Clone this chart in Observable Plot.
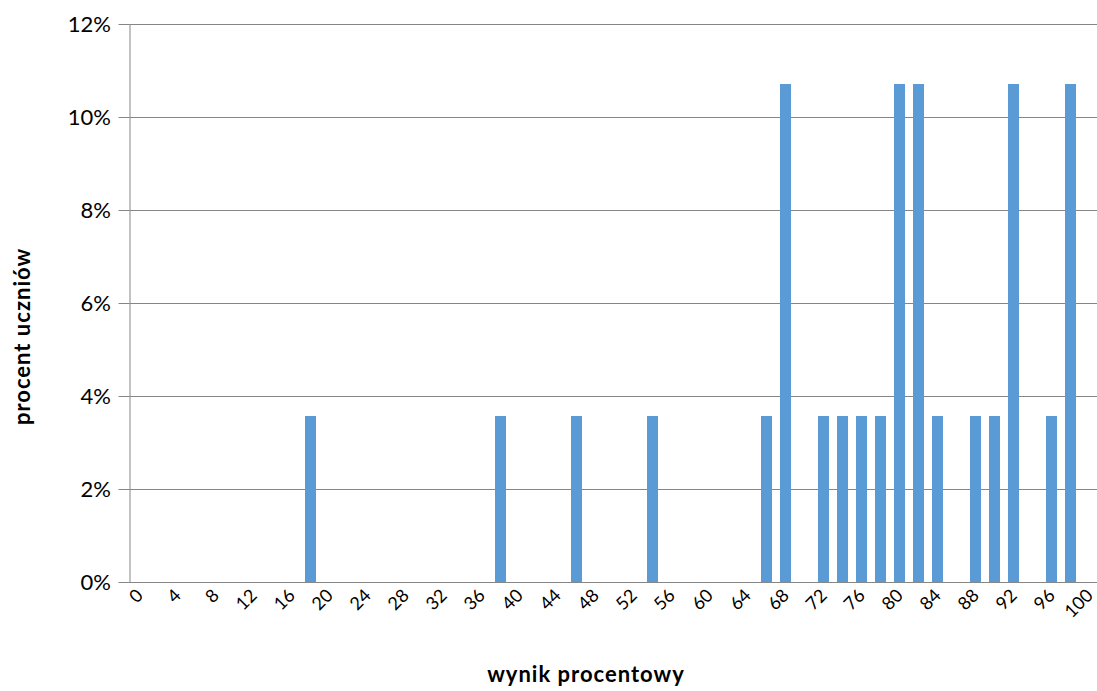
<!DOCTYPE html>
<html><head><meta charset="utf-8">
<script src="https://cdn.jsdelivr.net/npm/d3@7"></script>
<script src="https://cdn.jsdelivr.net/npm/@observablehq/plot@0.6"></script>
<style>body{margin:0;background:#fff;overflow:hidden} #chart svg{font-family:Lato;}</style>
</head><body><div id="chart"></div>
<script>
// categories: possible percentage scores (step 2)
const categories = [0,2,4,6,8,10,12,14,16,18,20,22,24,26,28,30,32,34,36,38,40,42,44,46,48,50,52,54,56,58,60,62,64,66,68,70,72,74,76,78,80,82,84,86,88,90,92,94,96,98,100];
// scores that occurred and share of students (28 students)
const barScores = [18,38,46,54,66,68,72,74,76,78,80,82,84,88,90,92,96,98];
const barShares = [0.0357,0.0357,0.0357,0.0357,0.0357,0.1071,0.0357,0.0357,0.0357,0.0357,0.1071,0.1071,0.0357,0.0357,0.0357,0.1071,0.0357,0.1071];
const xTickLabels = [0,4,8,12,16,20,24,28,32,36,40,44,48,52,56,60,64,68,72,76,80,84,88,92,96,100];
const yTicks = [0,0.02,0.04,0.06,0.08,0.10,0.12];
const yTitle = "procent uczniów";
const xTitle = "wynik procentowy";

const data = barScores.map((s, i) => ({score: s, share: barShares[i]}));
const gray = "#868686";

const chart = Plot.plot({
  width: 1097, height: 691,
  marginLeft: 129.5, marginRight: -2, marginTop: 24, marginBottom: 109,
  style: {fontFamily: "Lato", fontSize: "20px", background: "#fff", overflow: "hidden"},
  x: {type: "band", domain: categories, paddingInner: 0.42, paddingOuter: 0.21},
  y: {domain: [0, 0.12]},
  marks: [
    Plot.gridY(yTicks, {stroke: gray, strokeOpacity: 1}),
    Plot.frame({anchor: "left", stroke: gray}),
    Plot.barY(data, {x: "score", y: "share", fill: "#5b9bd5"}),
    Plot.ruleY([0], {stroke: gray}),
    Plot.axisY(yTicks, {tickFormat: d3.format(".0%"), tickSize: 11, tickPadding: 8, stroke: gray, fill: "black", label: null, fontSize: 22}),
    Plot.axisX(xTickLabels, {tickRotate: -45, tickSize: 0, tickPadding: 10, label: null, fontSize: 18, fill: "black"})
  ]
});
const svg = d3.select(chart);
svg.append("text")
  .attr("transform", "translate(30,336.5) rotate(-90)")
  .attr("text-anchor", "middle")
  .style("font-family", "Lato").style("font-weight", "bold").style("font-size", "22px").style("letter-spacing", "1px")
  .attr("fill", "black")
  .text(yTitle);
svg.append("text")
  .attr("x", 586).attr("y", 682)
  .attr("text-anchor", "middle")
  .style("font-family", "Lato").style("font-weight", "bold").style("font-size", "22px").style("letter-spacing", "1px")
  .attr("fill", "black")
  .text(xTitle);
document.getElementById("chart").append(chart);
</script>
</body></html>
